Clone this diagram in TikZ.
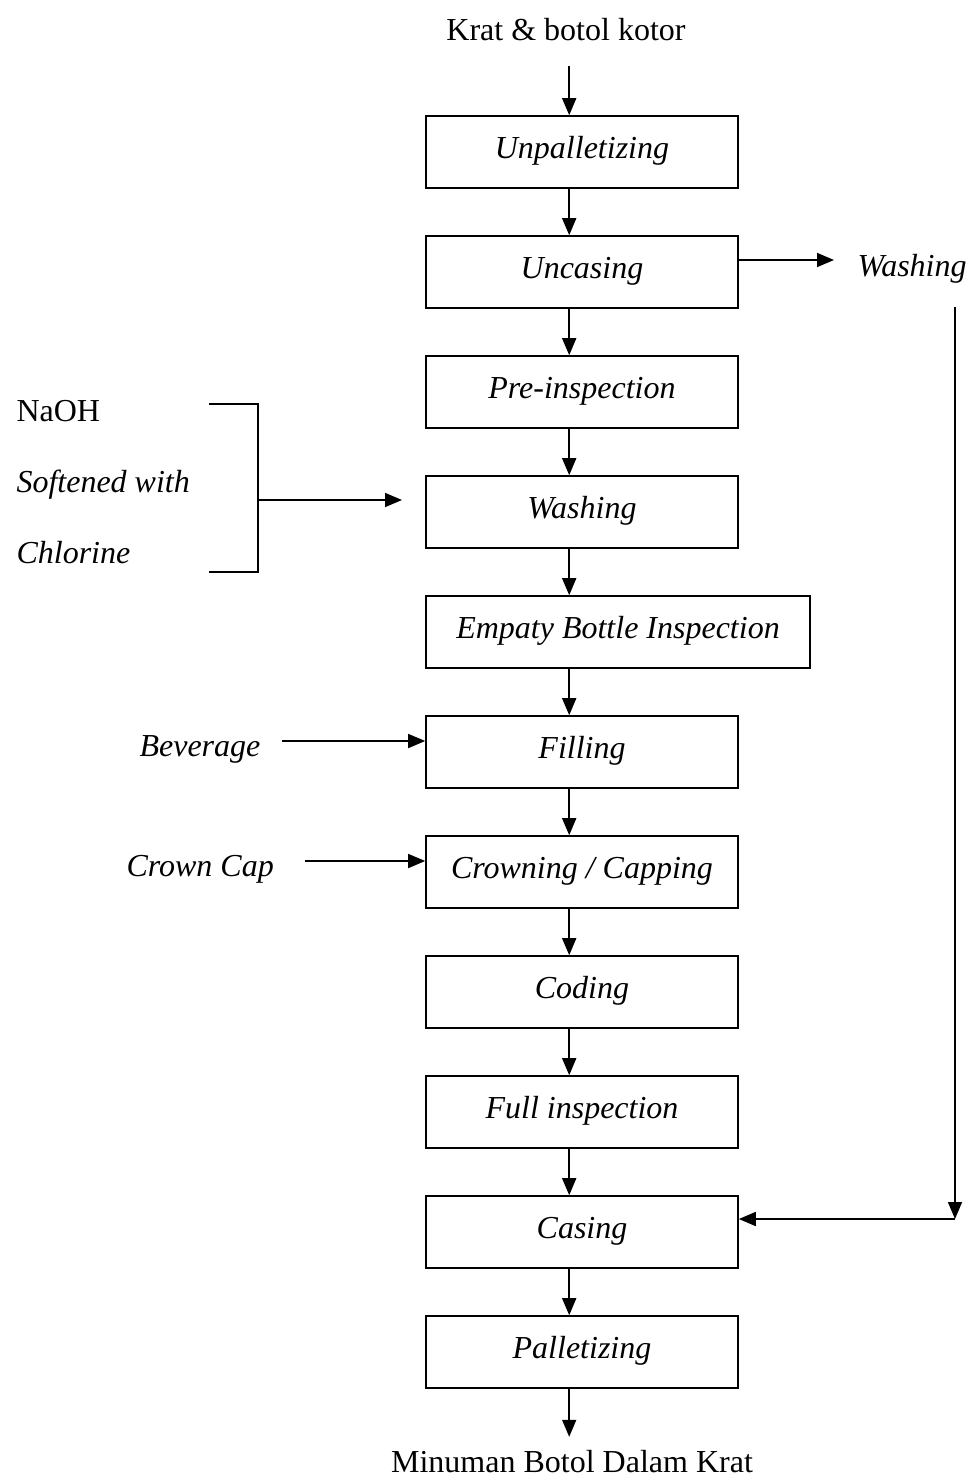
\documentclass[tikz,border=0pt]{standalone}
\usepackage{fontspec}
\setmainfont{Liberation Serif}
\usetikzlibrary{arrows.meta}
\begin{document}
\begin{tikzpicture}[x=1pt,y=-1pt,
  every node/.style={font=\fontsize{32}{38}\selectfont},
  proc/.style={draw,line width=1.6pt,rectangle,minimum width=312pt,minimum height=72pt,inner sep=0pt,text height=20pt,text depth=7pt,font=\fontsize{32}{38}\selectfont\itshape},
  arr/.style={line width=1.6pt,-{Triangle[length=17pt,width=14pt]}},
  ln/.style={line width=1.6pt},
  lab/.style={anchor=base west,font=\fontsize{32}{38}\selectfont\itshape}]
\useasboundingbox (0,0) rectangle (968,1481);
\node[anchor=base] (src) at (566,40) {Krat \& botol kotor};
\node[proc] (b1) at (582,152) {Unpalletizing};
\node[proc] (b2) at (582,272) {Uncasing};
\node[proc] (b3) at (582,392) {Pre-inspection};
\node[proc] (b4) at (582,512) {Washing};
\node[proc,minimum width=384pt] (b5) at (618,632) {Empaty Bottle Inspection};
\node[proc] (b6) at (582,752) {Filling};
\node[proc] (b7) at (582,872) {Crowning / Capping};
\node[proc] (b8) at (582,992) {Coding};
\node[proc] (b9) at (582,1112) {Full inspection};
\node[proc] (b10) at (582,1232) {Casing};
\node[proc] (b11) at (582,1352) {Palletizing};
\node[anchor=base] (dst) at (572,1472) {Minuman Botol Dalam Krat};
% main flow
\draw[arr] ([xshift=144pt]b1.north west) ++(0,-49) -- ([xshift=144pt]b1.north west);
\foreach \a/\b in {b1/b2,b2/b3,b3/b4,b4/b5,b6/b7,b7/b8,b8/b9,b9/b10,b10/b11}{
  \draw[arr] ([xshift=144pt]\a.south west) -- ([xshift=144pt]\b.north west);
}
\draw[arr] ([xshift=144pt]b5.south west) -- ([xshift=144pt]b6.north west);
\draw[arr] ([xshift=144pt]b11.south west) -- ++(0,48);
% washing side loop
\node[lab] (wr) at (854,276) {Washing};
\coordinate (wa) at (834,260);
\draw[arr] (b2.east |- wa) -- (wa);
\coordinate (vtop) at (955,307);
\coordinate (vbot) at (955,1219);
\draw[arr] (vtop) -- (vbot);
\draw[arr] (vbot) -- (b10.east |- vbot);
% chemicals
\node[anchor=base west] (naoh) at (13,421) {NaOH};
\node[lab] (soft) at (13,492) {Softened with};
\node[lab] (chl) at (13,563) {Chlorine};
\coordinate (bt) at (209,404);
\coordinate (bb) at (209,572);
\coordinate (bm) at (258,500);
\coordinate (bmt) at (402,500);
\draw[ln] (bt) -- (258,404) -- (258,572) -- (bb);
\draw[arr] (bm) -- (bmt);
% inputs
\node[lab] (bev) at (136,756) {Beverage};
\node[lab] (cc) at (123,876) {Crown Cap};
\coordinate (bevs) at (282,741);
\coordinate (ccs) at (305,861);
\draw[arr] (bevs) -- (b6.west |- bevs);
\draw[arr] (ccs) -- (b7.west |- ccs);
\end{tikzpicture}
\end{document}
